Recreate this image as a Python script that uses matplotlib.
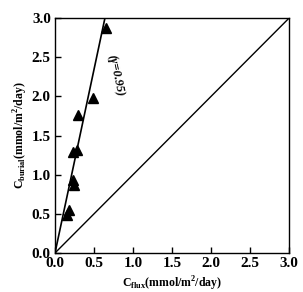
import matplotlib.pyplot as plt

# measured points (flux vs burial)
c_flux = [0.65, 0.49, 0.29, 0.23, 0.28, 0.23, 0.24, 0.18, 0.15]
c_burial = [2.87, 1.98, 1.76, 1.29, 1.32, 0.93, 0.87, 0.55, 0.49]

fit_x = [0.0, 0.64]
fit_y = [0.0, 3.0]
one_x = [0.0, 3.0]
one_y = [0.0, 3.0]
ticks = [0.0, 0.5, 1.0, 1.5, 2.0, 2.5, 3.0]

plt.rcParams['font.family'] = 'Liberation Serif'
plt.rcParams['font.weight'] = 'bold'

fig = plt.figure(figsize=(3.03, 2.92), dpi=100)
ax = fig.add_axes([0.1815, 0.1336, 0.7725, 0.8044])

ax.plot(fit_x, fit_y, color='black', lw=1.2)
ax.plot(one_x, one_y, color='black', lw=1.0)
ax.plot(c_flux, c_burial, '^', color='black', ms=7.5, clip_on=False)

ax.text(0.78, 2.27, '(γ=0.95)', rotation=-78, ha='center', va='center',
        fontsize=9, style='italic')

ax.set_xlim(0, 3)
ax.set_ylim(0, 3)
ax.set_xticks(ticks)
ax.set_yticks(ticks)
ax.set_xticklabels(['%.1f' % t for t in ticks], fontsize=11, fontweight='bold')
ax.set_yticklabels(['%.1f' % t for t in ticks], fontsize=11, fontweight='bold')
ax.tick_params(direction='in', length=4, width=1, pad=3)
for s in ax.spines.values():
    s.set_linewidth(1.0)

ax.set_xlabel(r'C$_{\mathregular{flux}}$(mmol/m$^{\mathregular{2}}$/day)', fontsize=8.5,
              fontweight='bold', labelpad=3)
ax.set_ylabel(r'C$_{\mathregular{burial}}$(mmol/m$^{\mathregular{2}}$/day)', fontsize=8.5,
              fontweight='bold', labelpad=1)

fig.savefig('out.png', dpi=100)
